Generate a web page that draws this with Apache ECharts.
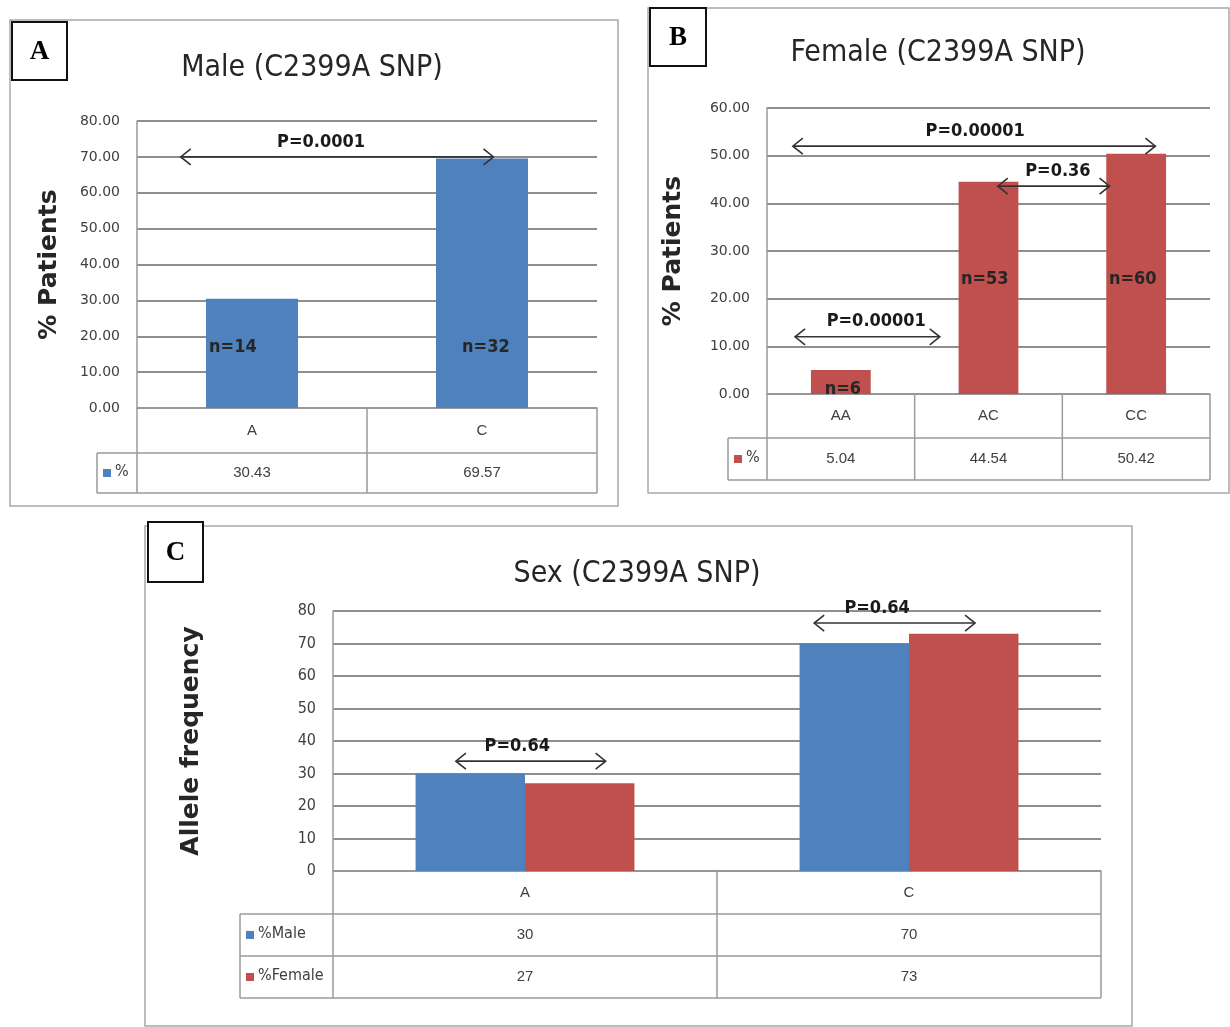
<!DOCTYPE html>
<html><head><meta charset="utf-8">
<script src="https://cdn.jsdelivr.net/npm/echarts/dist/echarts.min.js"></script>
<style>html,body{margin:0;padding:0;background:#fff}#c{width:1230px;height:1027px}</style>
</head><body><div id="c"></div>
<script>
// ---------- data ----------
const maleCategories = ['A', 'C'];
const maleValues = [30.43, 69.57];
const maleN = ['n=14', 'n=32'];

const femaleCategories = ['AA', 'AC', 'CC'];
const femaleValues = [5.04, 44.54, 50.42];
const femaleN = ['n=6', 'n=53', 'n=60'];

const sexCategories = ['A', 'C'];
const sexMale = [30, 70];
const sexFemale = [27, 73];

const maleTickMax = 80, femaleTickMax = 60, sexTickMax = 80, tickStep = 10;

// annotation arrows: category-unit start/end, value level, label, label position (category units)
const maleArrows = [{ from: -0.31, to: 1.05, value: 70, text: 'P=0.0001', at: 0.30 }];
const femaleArrows = [
  { from: -0.325, to: 2.13, value: 52, text: 'P=0.00001', at: 0.91 },
  { from: 1.063, to: 1.82, value: 43.6, text: 'P=0.36', at: 1.47 },
  { from: -0.31, to: 0.67, value: 12, text: 'P=0.00001', at: 0.24 }
];
const sexArrows = [
  { from: -0.18, to: 0.21, value: 33.8, text: 'P=0.64', at: -0.02 },
  { from: 0.753, to: 1.172, value: 76.3, text: 'P=0.64', at: 0.917 }
];
// n labels: category-unit position and value level
const maleNPos = [[-0.083, 17], [1.017, 17]];
const femaleNPos = [[0.014, 1.0], [0.975, 24], [1.977, 24]];

// ---------- style ----------
const BLUE = '#4F81BD', RED = '#C0504D';
const NARROW = "'Liberation Sans Narrow','DejaVu Sans Condensed',sans-serif";
const SANS = "'Liberation Sans','DejaVu Sans',sans-serif";
const GRIDC = '#8e8e8e', TABLEC = '#9a9a9a', TXT = '#404040';

const grids = [
  { left: 137, top: 121, width: 460, height: 287, outerBoundsMode: 'none', containLabel: false },
  { left: 767, top: 108, width: 443, height: 286, outerBoundsMode: 'none', containLabel: false },
  { left: 333, top: 611, width: 768, height: 260, outerBoundsMode: 'none', containLabel: false }
];
const tables = [
  { legendLeft: 97, headerH: 45, rowH: 40, rows: [{ name: '%', color: BLUE, values: maleValues }], fmt: v => v.toFixed(2) },
  { legendLeft: 728, headerH: 44, rowH: 42, rows: [{ name: '%', color: RED, values: femaleValues }], fmt: v => v.toFixed(2) },
  { legendLeft: 240, headerH: 43, rowH: 42, rows: [{ name: '%Male', color: BLUE, values: sexMale }, { name: '%Female', color: RED, values: sexFemale }], fmt: v => String(v) }
];

function yAx(gi, max, fmt, name, gap, fs, ff) {
  return {
    type: 'value', gridIndex: gi, min: 0, max: max, interval: tickStep,
    axisLine: { show: true, lineStyle: { color: TABLEC, width: 1.5 } }, axisTick: { show: false },
    splitLine: { show: true, lineStyle: { color: GRIDC, width: 2 } },
    axisLabel: { formatter: fmt, color: TXT, fontFamily: ff, fontSize: fs, margin: 17 },
    name: name, nameLocation: 'middle', nameRotate: 90, nameGap: gap,
    nameTextStyle: { fontFamily: "'DejaVu Sans',sans-serif", fontWeight: 'bold', fontSize: 25, color: '#262626' }
  };
}
function xAx(gi, cats, headerH) {
  return {
    type: 'category', gridIndex: gi, data: cats,
    axisLine: { show: true, lineStyle: { color: TABLEC, width: 1.5 } }, axisTick: { show: false },
    splitLine: { show: false },
    axisLabel: { color: TXT, fontFamily: SANS, fontSize: 15, margin: headerH / 2, verticalAlign: 'middle' }
  };
}

const chart = echarts.init(document.getElementById('c'), null, { renderer: 'canvas' });
chart.setOption({
  animation: false,
  backgroundColor: '#fff',
  grid: grids,
  xAxis: [xAx(0, maleCategories, 45), xAx(1, femaleCategories, 44), xAx(2, sexCategories, 43)],
  yAxis: [
    yAx(0, maleTickMax, v => v.toFixed(2), '% Patients', 75, 14, "'DejaVu Sans',sans-serif"),
    yAx(1, femaleTickMax, v => v.toFixed(2), '% Patients', 81, 14, "'DejaVu Sans',sans-serif"),
    yAx(2, sexTickMax, v => String(v), 'Allele frequency', 129, 16, NARROW)
  ],
  series: [
    { type: 'bar', name: '%', xAxisIndex: 0, yAxisIndex: 0, data: maleValues, barWidth: '40%', itemStyle: { color: BLUE } },
    { type: 'bar', name: '%', xAxisIndex: 1, yAxisIndex: 1, data: femaleValues, barWidth: '40.5%', itemStyle: { color: RED } },
    { type: 'bar', name: '%Male', xAxisIndex: 2, yAxisIndex: 2, data: sexMale, barGap: '0%', barCategoryGap: '43%', itemStyle: { color: BLUE } },
    { type: 'bar', name: '%Female', xAxisIndex: 2, yAxisIndex: 2, data: sexFemale, barGap: '0%', barCategoryGap: '43%', itemStyle: { color: RED } }
  ]
});

// ---------- graphics ----------
const G = [];
const ln = (x1, y1, x2, y2, color, w) => ({ type: 'line', z: 100, shape: { x1, y1, x2, y2 }, style: { stroke: color, lineWidth: w }, silent: true });
const tx = (x, y, text, font, color, align) => ({ type: 'text', z: 110, x, y, style: { text, font, fill: color, align: align || 'center', verticalAlign: 'middle' }, silent: true });

// panel frames & letter boxes
[[10, 20, 608, 486], [648, 8, 581, 485], [145, 526, 987, 500]].forEach(r =>
  G.push({ type: 'rect', z: 90, shape: { x: r[0], y: r[1], width: r[2], height: r[3] }, style: { fill: 'none', stroke: '#a8a8a8', lineWidth: 1.5 }, silent: true }));
[[12, 22, 55, 58, 'A'], [650, 8, 56, 58, 'B'], [148, 522, 55, 60, 'C']].forEach(r => {
  G.push({ type: 'rect', z: 95, shape: { x: r[0], y: r[1], width: r[2], height: r[3] }, style: { fill: '#fff', stroke: '#111', lineWidth: 2 }, silent: true });
  G.push(tx(r[0] + r[2] / 2, r[1] + r[3] / 2 + 1, r[4], "bold 27px 'Liberation Serif',serif", '#000'));
});
// titles
G.push(tx(312, 68, 'Male (C2399A SNP)', `30px ${NARROW}`, '#262626'));
G.push(tx(938, 53, 'Female (C2399A SNP)', `30px ${NARROW}`, '#262626'));
G.push(tx(637, 574, 'Sex (C2399A SNP)', `30px ${NARROW}`, '#262626'));

const catsList = [maleCategories, femaleCategories, sexCategories];
function catX(gi, pos) {
  const cats = catsList[gi];
  const c0 = chart.convertToPixel({ xAxisIndex: gi }, cats[0]);
  const c1 = chart.convertToPixel({ xAxisIndex: gi }, cats[1]);
  return c0 + pos * (c1 - c0);
}
const valY = (gi, v) => chart.convertToPixel({ yAxisIndex: gi }, v);

// tables
tables.forEach((t, gi) => {
  const cats = catsList[gi];
  const c0 = catX(gi, 0), band = catX(gi, 1) - c0;
  const L = c0 - band / 2, R = c0 + band * (cats.length - 0.5);
  const y0 = valY(gi, 0);
  const total = t.headerH + t.rowH * t.rows.length;
  for (let i = 0; i <= cats.length; i++) { const x = L + i * band; G.push(ln(x, y0, x, y0 + total, TABLEC, 1.5)); }
  G.push(ln(t.legendLeft, y0 + t.headerH, t.legendLeft, y0 + total, TABLEC, 1.5));
  for (let r = 0; r <= t.rows.length; r++) { const y = y0 + t.headerH + r * t.rowH; G.push(ln(t.legendLeft, y, R, y, TABLEC, 1.5)); }
  t.rows.forEach((row, r) => {
    const yc = y0 + t.headerH + r * t.rowH + t.rowH / 2;
    G.push({ type: 'rect', z: 100, shape: { x: t.legendLeft + 6, y: yc - 4, width: 8, height: 8 }, style: { fill: row.color }, silent: true });
    G.push(tx(t.legendLeft + 18, yc - 1, row.name, `16px ${NARROW}`, TXT, 'left'));
    row.values.forEach((v, i) => G.push(tx(c0 + i * band, yc, t.fmt(v), `15px ${SANS}`, TXT)));
  });
});

// arrows
function arrow(gi, a) {
  const x1 = catX(gi, a.from), x2 = catX(gi, a.to), y = valY(gi, a.value);
  const c = '#333';
  G.push(ln(x1, y, x2, y, c, 1.6));
  G.push({ type: 'polyline', z: 100, shape: { points: [[x1 + 10, y - 8], [x1, y], [x1 + 10, y + 8]] }, style: { stroke: c, lineWidth: 1.6, fill: 'none' }, silent: true });
  G.push({ type: 'polyline', z: 100, shape: { points: [[x2 - 10, y - 8], [x2, y], [x2 - 10, y + 8]] }, style: { stroke: c, lineWidth: 1.6, fill: 'none' }, silent: true });
  G.push(tx(catX(gi, a.at), y - 15, a.text, `bold 18px ${NARROW}`, '#1a1a1a'));
}
maleArrows.forEach(a => arrow(0, a));
femaleArrows.forEach(a => arrow(1, a));
sexArrows.forEach(a => arrow(2, a));

// n labels
maleN.forEach((t, i) => G.push(tx(catX(0, maleNPos[i][0]), valY(0, maleNPos[i][1]), t, `bold 18px ${NARROW}`, '#262626')));
femaleN.forEach((t, i) => G.push(tx(catX(1, femaleNPos[i][0]), valY(1, femaleNPos[i][1]), t, `bold 18px ${NARROW}`, '#262626')));

chart.setOption({ graphic: G });
</script></body></html>
